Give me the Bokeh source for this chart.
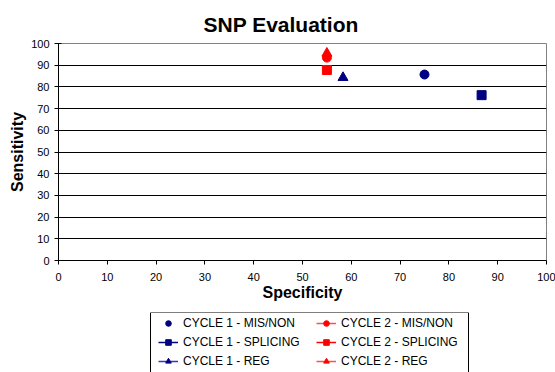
from bokeh.plotting import figure
from bokeh.models import Range1d, Legend, LegendItem, FixedTicker, BoxAnnotation
from bokeh.layouts import column
from bokeh.embed import file_html
from bokeh.resources import INLINE

series = ["CYCLE 1 - MIS/NON", "CYCLE 1 - SPLICING", "CYCLE 1 - REG",
          "CYCLE 2 - MIS/NON", "CYCLE 2 - SPLICING", "CYCLE 2 - REG"]
specificity = [75.0, 86.7, 58.3, 55.0, 55.0, 55.0]
sensitivity = [85.7, 76.2, 84.3, 93.5, 87.8, 95.5]
markers = ["circle", "square", "triangle", "circle", "square", "triangle"]
marker_colors = ["#000080", "#000080", "#000080", "#FF0000", "#FF0000", "#FF0000"]
line_colors = [None, "#000080", "#3333CC", "#FF5050", "#FF0000", "#FF5050"]
ticks = [0, 10, 20, 30, 40, 50, 60, 70, 80, 90, 100]

FONT = "Liberation Sans"

p = figure(width=555, height=305, output_backend="svg", toolbar_location=None,
           x_range=Range1d(0, 100), y_range=Range1d(0, 100),
           min_border_left=58, min_border_right=9, min_border_top=43, min_border_bottom=45)

p.title.text = "SNP Evaluation"
p.title.align = "left"
p.title.offset = 145
p.title.standoff = 15
p.title.text_font = FONT
p.title.text_font_size = "21px"
p.title.text_font_style = "bold"
p.title.text_color = "black"

p.outline_line_color = "#808080"
p.outline_line_width = 1
p.background_fill_color = "white"
p.border_fill_color = "white"

p.xgrid.visible = False
p.ygrid.grid_line_color = "black"
p.ygrid.grid_line_width = 1
p.ygrid.ticker = FixedTicker(ticks=ticks)

for ax in (p.xaxis[0], p.yaxis[0]):
    ax.ticker = FixedTicker(ticks=ticks)
    ax.minor_tick_line_color = None
    ax.axis_line_color = "black"
    ax.major_tick_line_color = "black"
    ax.major_label_text_font = FONT
    ax.major_label_text_font_size = "11px"
    ax.major_label_text_color = "black"
    ax.axis_label_text_font = FONT
    ax.axis_label_text_font_size = "16px"
    ax.axis_label_text_font_style = "bold"
    ax.axis_label_text_color = "black"

p.xaxis.axis_label = "Specificity"
p.yaxis.axis_label = "Sensitivity"
p.xaxis.major_tick_in = 0
p.xaxis.major_tick_out = 4
p.xaxis.major_label_standoff = 8
p.yaxis.major_tick_in = 3
p.yaxis.major_tick_out = 4
p.xaxis.axis_label_standoff = 0
p.yaxis.axis_label_standoff = 2

for i, name in enumerate(series):
    size = 10 if markers[i] == "triangle" else 9
    p.scatter(x=[specificity[i]], y=[sensitivity[i]], marker=markers[i], size=size,
              fill_color=marker_colors[i], line_color=marker_colors[i])

# legend panel below the chart (frame aligned with the chart's frame; 1 unit = 1 px)
lg = figure(width=555, height=67, output_backend="svg", toolbar_location=None,
            x_range=Range1d(0, 488), y_range=Range1d(0, 60),
            x_axis_location=None, y_axis_location=None,
            min_border_left=58, min_border_right=9, min_border_top=7, min_border_bottom=0)
lg.grid.visible = False
lg.outline_line_color = None
lg.background_fill_color = "white"
lg.border_fill_color = "white"
lg.add_layout(BoxAnnotation(left=92, right=410, bottom=-1, top=60,
                            fill_alpha=0, line_color="black", line_width=1, line_alpha=1))

items = []
for i, name in enumerate(series):
    rends = []
    # same single points as the chart; they fall outside this panel's ranges and are clipped
    if line_colors[i] is not None:
        rends.append(lg.line(x=[specificity[i]], y=[sensitivity[i]],
                             line_color=line_colors[i], line_width=1.5))
    size = 9 if markers[i] == "triangle" else 8
    rends.append(lg.scatter(x=[specificity[i]], y=[sensitivity[i]], marker=markers[i], size=size,
                            fill_color=marker_colors[i], line_color=marker_colors[i]))
    items.append(LegendItem(label=name, renderers=rends))

for start, xoff in [(0, 100), (3, 258)]:
    leg = Legend(items=items[start:start + 3], location=(xoff, 4), orientation="vertical")
    leg.label_text_font = FONT
    leg.label_text_font_size = "12px"
    leg.label_text_color = "black"
    leg.border_line_color = None
    leg.background_fill_alpha = 0
    leg.glyph_width = 20
    leg.glyph_height = 14
    leg.label_height = 14
    leg.label_standoff = 5
    leg.spacing = 5
    leg.padding = 0
    leg.margin = 0
    lg.add_layout(leg, "center")

open("out.html", "w").write(file_html(column(p, lg, spacing=0), INLINE))
